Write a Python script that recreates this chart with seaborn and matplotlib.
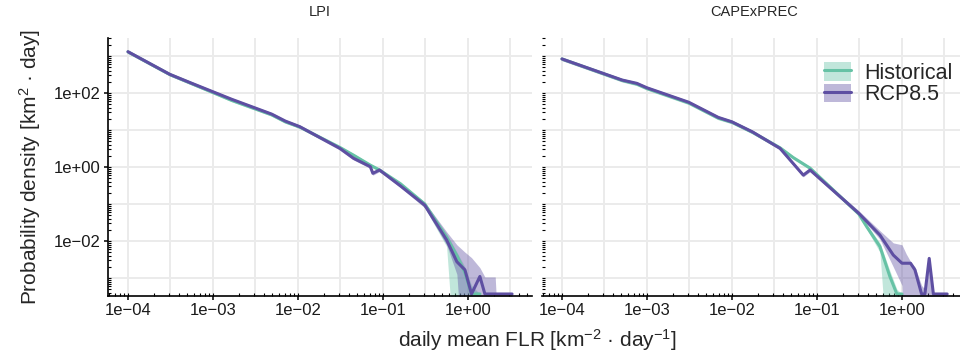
import numpy as np
import pandas as pd
import matplotlib
matplotlib.use("Agg")
import matplotlib.pyplot as plt
import seaborn as sns
from matplotlib.ticker import LogLocator, FixedLocator, NullFormatter, FixedFormatter
from matplotlib.patches import Patch
from matplotlib.lines import Line2D
from matplotlib.legend_handler import HandlerTuple

# ---------------- data ----------------
B = 3.7e-4      # values sitting on the lower plot limit
Z = 1e-6        # ribbon edges going below the plot

panels = ["LPI", "CAPExPREC"]
scenarios = ["Historical", "RCP8.5"]

# LPI - Historical
lpi_hist_x = [1.0e-4, 3.1e-4, 5.4e-4, 1.66e-3, 4.9e-3, 7.1e-3, 1.05e-2, 3.1e-2, 4.5e-2,
              7.1e-2, 9.1e-2, 0.16, 0.31, 0.56, 0.74, 0.92, 1.1, 1.38]
lpi_hist_y = [1290, 316, 186, 63, 25.7, 16.6, 12.0, 3.4, 2.09,
              1.12, 0.83, 0.355, 0.1, 0.0126, 0.004, 0.0014, B, B]
lpi_hist_lo = [1190, 290, 170, 58, 23.5, 15.2, 11.0, 3.1, 1.9,
               1.02, 0.76, 0.316, 0.079, 0.0071, Z, Z, Z, Z]
lpi_hist_hi = [1420, 346, 204, 69, 28, 18.2, 13.2, 3.7, 2.29,
               1.23, 0.91, 0.38, 0.112, 0.0158, 0.005, 0.002, 6.3e-4, B]

# LPI - RCP8.5
lpi_rcp_x = [1.0e-4, 3.1e-4, 5.4e-4, 1.66e-3, 4.9e-3, 7.1e-3, 1.05e-2, 3.1e-2, 4.5e-2,
             7.1e-2, 7.6e-2, 9.1e-2, 0.16, 0.31, 0.56, 0.74, 0.92, 1.1, 1.38, 1.58,
             2.09, 2.14, 3.3]
lpi_rcp_y = [1306, 320, 190, 67.6, 26.9, 17.4, 12.3, 3.2, 1.72,
             1.02, 0.676, 0.83, 0.31, 0.093, 0.0107, 0.00275, 0.00166, B, 0.0011, B,
             B, B, B]
lpi_rcp_lo = [1175, 288, 171, 61, 24.2, 15.7, 11.1, 2.88, 1.55,
              0.92, 0.6, 0.75, 0.28, 0.079, 0.0079, 0.00126, Z, Z, Z, Z,
              Z, Z, Z]
lpi_rcp_hi = [1437, 352, 209, 74, 29.6, 19.1, 13.5, 3.5, 1.9,
              1.12, 0.75, 0.91, 0.355, 0.112, 0.0178, 0.0079, 0.005, 0.00355, 0.0019, 0.00107,
              0.00107, B, B]

# CAPExPREC - Historical
cp_hist_x = [1.0e-4, 5.1e-4, 7.6e-4, 1.0e-3, 3.1e-3, 6.9e-3, 1.0e-2, 1.74e-2, 3.67e-2,
             5.25e-2, 8.3e-2, 0.31, 0.384, 0.55, 0.72, 0.87, 1.0]
cp_hist_y = [832, 219, 174, 132, 53.7, 20.9, 16.2, 8.7, 3.31,
             1.8, 0.93, 0.0537, 0.0245, 0.0071, 0.0011, B, B]
cp_hist_lo = [750, 197, 157, 119, 48.3, 18.8, 14.6, 7.8, 2.98,
              1.62, 0.84, 0.048, 0.0209, 0.005, Z, Z, Z]
cp_hist_hi = [915, 241, 191, 145, 59, 23, 17.8, 9.6, 3.64,
              1.98, 1.02, 0.059, 0.028, 0.0089, 0.00158, 5e-4, B]

# CAPExPREC - RCP8.5
cp_rcp_x = [1.0e-4, 5.1e-4, 7.6e-4, 1.0e-3, 3.1e-3, 6.9e-3, 1.0e-2, 1.74e-2, 3.67e-2,
            6.9e-2, 8.3e-2, 0.31, 0.55, 0.79, 1.0, 1.12, 1.26, 1.42, 1.7, 1.86,
            2.09, 2.34, 3.4]
cp_rcp_y = [832, 224, 182, 138, 56.2, 21.9, 16.6, 8.9, 3.2,
            0.603, 0.83, 0.0562, 0.0145, 0.00417, 0.00251, 0.00251, 0.00251, 0.00166, B, B,
            0.00339, B, B]
cp_rcp_lo = [750, 202, 164, 124, 50.6, 19.7, 14.9, 8.0, 2.88,
             0.54, 0.75, 0.05, 0.0112, 0.002, 6.3e-4, Z, Z, Z, Z, Z,
             Z, Z, Z]
cp_rcp_hi = [915, 246, 200, 152, 61.8, 24.1, 18.3, 9.8, 3.52,
             0.66, 0.91, 0.066, 0.019, 0.0089, 0.0079, 0.0045, 0.0028, 0.002, 6.3e-4, 5e-4,
             0.00339, B, B]

x_ticks = [1e-4, 1e-3, 1e-2, 1e-1, 1e0]
x_tick_labels = ["1e\u221204", "1e\u221203", "1e\u221202", "1e\u221201", "1e+00"]
y_ticks = [1e-2, 1e0, 1e2]
y_tick_labels = ["1e\u221202", "1e+00", "1e+02"]

colors = {"Historical": "#66C2A5", "RCP8.5": "#5E4FA2"}

# ---------------- table ----------------
series = {
    ("LPI", "Historical"): (lpi_hist_x, lpi_hist_y, lpi_hist_lo, lpi_hist_hi),
    ("LPI", "RCP8.5"): (lpi_rcp_x, lpi_rcp_y, lpi_rcp_lo, lpi_rcp_hi),
    ("CAPExPREC", "Historical"): (cp_hist_x, cp_hist_y, cp_hist_lo, cp_hist_hi),
    ("CAPExPREC", "RCP8.5"): (cp_rcp_x, cp_rcp_y, cp_rcp_lo, cp_rcp_hi),
}
frames = []
for (p, s), (x, y, lo, hi) in series.items():
    frames.append(pd.DataFrame({"panel": p, "scenario": s, "x": x, "y": y, "lo": lo, "hi": hi}))
df = pd.concat(frames, ignore_index=True)

# ---------------- style ----------------
sns.set_style("white")
plt.rcParams["font.family"] = ["Liberation Sans", "DejaVu Sans"]
plt.rcParams["mathtext.fontset"] = "custom"
plt.rcParams["mathtext.rm"] = "Liberation Sans"
plt.rcParams["mathtext.it"] = "Liberation Sans:italic"
plt.rcParams["mathtext.bf"] = "Liberation Sans:bold"

W, H = 960, 358
fig = plt.figure(figsize=(9.6, 3.58), dpi=100)
axL = fig.add_axes([108 / W, 1 - 296 / H, 424 / W, 258 / H])
axR = fig.add_axes([542 / W, 1 - 296 / H, 424 / W, 258 / H])

xlim = (10 ** -4.235, 10 ** 0.753)
ylim = (10 ** -3.486, 10 ** 3.486)
grid_col = "#EBEBEB"

for ax, panel in zip([axL, axR], panels):
    ax.set_xscale("log")
    ax.set_yscale("log")
    ax.set_facecolor("white")
    for k in range(-8, 2):
        ax.axvline(10 ** (k / 2), color=grid_col, lw=1.4, zorder=0.5)
    for k in range(-3, 4):
        ax.axhline(10.0 ** k, color=grid_col, lw=1.4, zorder=0.5)

    sub = df[df.panel == panel]
    for s in scenarios:
        d = sub[sub.scenario == s]
        ax.fill_between(d.x, d.lo, d.hi, color=colors[s], alpha=0.4, lw=0, zorder=1)
    sns.lineplot(data=sub, x="x", y="y", hue="scenario", hue_order=scenarios,
                 palette=colors, estimator=None, sort=False, lw=2.2,
                 legend=False, ax=ax, zorder=2)

    ax.set_xlim(*xlim)
    ax.set_ylim(*ylim)
    ax.set_xlabel("")
    ax.set_ylabel("")

    ax.xaxis.set_major_locator(FixedLocator(x_ticks))
    ax.xaxis.set_major_formatter(FixedFormatter(x_tick_labels))
    ax.yaxis.set_major_locator(FixedLocator(y_ticks))
    ax.yaxis.set_major_formatter(FixedFormatter(y_tick_labels))
    for axis in (ax.xaxis, ax.yaxis):
        axis.set_minor_locator(LogLocator(base=10, subs=np.arange(1, 10), numticks=200))
        axis.set_minor_formatter(NullFormatter())
        axis.remove_overlapping_locs = False
    ax.tick_params(which="both", bottom=True, left=True, top=False, right=False)
    ax.tick_params(which="major", direction="out", length=3.2, width=1.1,
                   color="black", labelsize=12, pad=2, labelcolor="#1a1a1a")
    ax.tick_params(which="minor", direction="in", length=2.0, width=0.8, color="black")
    for sp in ["top", "right"]:
        ax.spines[sp].set_visible(False)
    for sp in ["left", "bottom"]:
        ax.spines[sp].set_color("black")
        ax.spines[sp].set_linewidth(1.2)

axR.spines["left"].set_visible(False)
axR.tick_params(axis="y", which="major", length=0, labelleft=False)

# titles
fig.text(320 / W, 1 - 12 / H, "LPI", ha="center", va="center", fontsize=10.5)
fig.text(754 / W, 1 - 12 / H, "CAPExPREC", ha="center", va="center", fontsize=10.5)

# axis labels
fig.text(30 / W, 1 - 167 / H, "Probability density [km$^{2}$ \u00b7 day]",
         rotation=90, ha="center", va="center", fontsize=15)
fig.text(537 / W, 1 - 340 / H, "daily mean FLR [km$^{-2}$ \u00b7 day$^{-1}$]",
         ha="center", va="center", fontsize=15)

# legend
handles = [(Patch(facecolor=colors[s], alpha=0.4, edgecolor="none"),
            Line2D([], [], color=colors[s], lw=2.2)) for s in scenarios]
axR.legend(handles=handles, labels=scenarios,
           handler_map={tuple: HandlerTuple(ndivide=1, pad=0)},
           loc="upper left", bbox_to_anchor=(824 / W, 1 - 62 / H),
           bbox_transform=fig.transFigure, frameon=False, fontsize=15.5,
           handlelength=1.25, handleheight=0.96, handletextpad=0.6,
           labelspacing=0.0, borderpad=0, borderaxespad=0)

fig.savefig("out.png", dpi=100)
